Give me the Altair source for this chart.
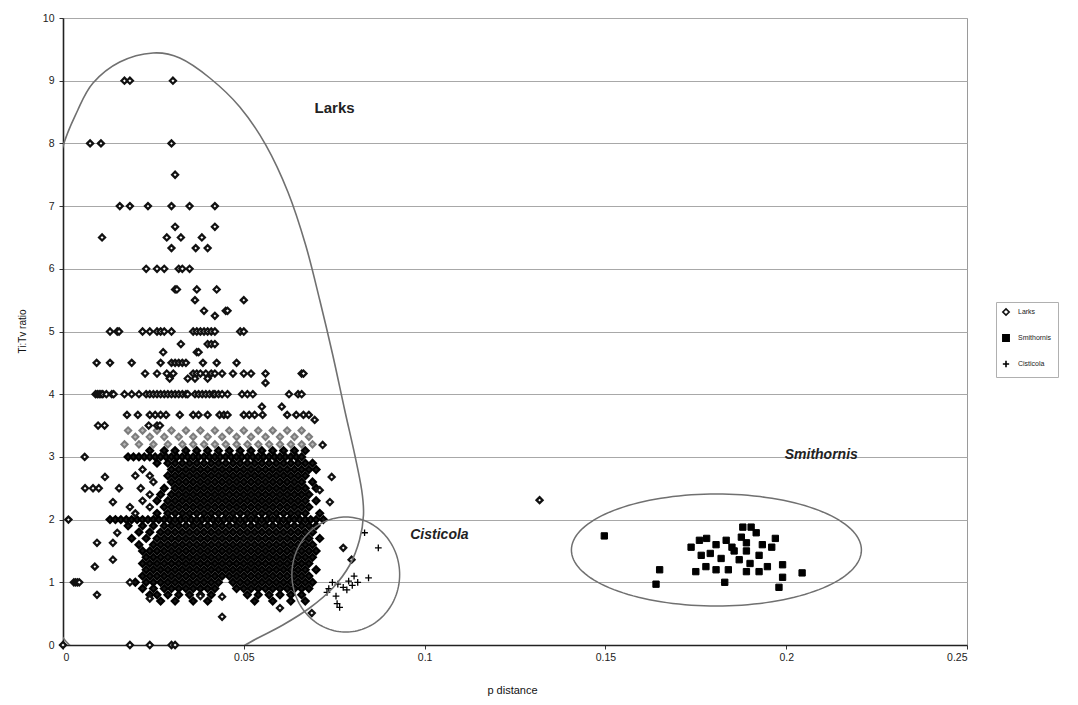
import altair as alt
import pandas as pd
import numpy as np

FONT = "Liberation Sans"
series_names = ["Larks", "Smithornis", "Cisticola"]

# ---------- Larks: isolated points, rows of (Ti:Tv, [p distance x1000]) ----------
larks_upper_rows = [
    (9, [17, 18.5, 30.4]),
    (8, [7.5, 10.5, 30]),
    (7.5, [31]),
    (7, [15.7, 18.5, 23.5, 30, 35, 42]),
    (6.67, [31, 42]),
    (6.5, [10.8, 28.7, 32.6, 38.4]),
    (6.33, [30, 36.7, 40]),
    (6, [23, 26, 28, 32, 33, 35]),
    (5.67, [31, 31.5, 37, 42.5]),
    (5.5, [36.5, 50]),
    (5.33, [39, 45, 45.5]),
    (5.25, [42]),
    (5, [13, 15, 15.5, 22, 24, 26, 27, 28, 30, 36, 37, 38, 39, 40, 41, 42, 49, 50]),
    (4.8, [32.6, 40, 41, 42]),
    (4.67, [27.7, 37, 37.5]),
    (4.5, [9.3, 13, 19, 27, 30, 31, 32, 33, 34, 38.7, 42.5, 48]),
    (4.33, [22.7, 26, 28.7, 30.5, 36, 37, 38, 39.5, 41, 42, 44, 47, 50, 52, 56, 66, 66.5]),
    (4.25, [29.5, 34.5, 36.5, 40]),
    (4.18, [56]),
    (4, [9, 9.5, 10, 10.5, 11, 12, 13.5, 14, 17, 19, 21, 23, 24, 25, 26, 27, 28, 29, 30,
         31, 32, 33, 34, 34.5, 36.5, 37.5, 38.5, 39.5, 40.5, 41.5, 42, 43, 44, 45.5,
         49.5, 51, 52.5, 62.5, 65, 66]),
    (3.8, [55, 60.5]),
    (3.67, [17.7, 20.7, 24, 25.5, 27, 28.5, 32.3, 36, 37.5, 40, 43.3, 44.5, 45.5, 50,
            51.5, 53, 55.2, 62, 64.5, 66.5, 68]),
    (3.59, [69.6]),
    (3.5, [9.7, 11.5, 23.7, 26, 26.8]),
]

larks_lower_rows = [
    (3.19, [71.8]),
    (3, [6]),
    (2.8, [22]),
    (2.7, [20, 24]),
    (2.68, [11.6, 74.3]),
    (2.6, [25]),
    (2.5, [6.1, 8.3, 9.9, 15.5, 21.5]),
    (2.47, [71]),
    (2.4, [24]),
    (2.31, [131.8]),
    (2.3, [22]),
    (2.28, [13.8, 73.8]),
    (2.2, [18.5, 24]),
    (2.1, [20]),
    (2, [1.5]),
    (1.79, [15]),
    (1.63, [9.4, 13.8]),
    (1.55, [77.5]),
    (1.36, [13.8, 79.8]),
    (1.25, [8.8]),
    (1, [3, 3.5, 4, 4.5, 18.5]),
    (0.8, [9.4]),
    (0.78, [38]),
    (0.77, [44]),
    (0.74, [24]),
    (0.59, [60]),
    (0.51, [68.8]),
    (0.45, [44]),
    (0, [0, 18.5, 24, 30, 31]),
]

# lighter band on top of the dense core
larks_band_rows = [
    (3.42, [18, 22, 26, 30, 34, 38, 42, 46, 50, 54, 58, 62, 66]),
    (3.32, [20, 24, 28, 32, 36, 40, 44, 48, 52, 56, 60, 64, 68]),
    (3.2, [17, 21, 25, 29, 33, 36, 39, 42, 45, 48, 51, 54, 57, 60, 63, 66, 69]),
]

# dense core (overlapping markers)
larks_core_rows = [
    (3.1, [24, 28, 31, 34, 37, 40, 43, 46, 49, 52, 55, 58, 61, 64, 67]),
    (3.0, [18, 19.5, 21, 22.5, 24, 25.5, 27, 28.5, 30, 31.5, 33, 34.5, 36, 37.5, 39, 40.5,
           42, 43.5, 45, 46.5, 48, 49.5, 51, 52.5, 54, 55.5, 57, 58.5, 60, 61.5, 63, 64.5, 66]),
    (2.9, [26, 29, 31, 33, 35, 37, 39, 41, 43, 45, 47, 49, 51, 53, 55, 57, 59, 61, 63, 65, 67, 69]),
    (2.8, [30, 32, 34, 36, 38, 40, 42, 44, 46, 48, 50, 52, 54, 56, 58, 60, 62, 64, 66, 68, 70]),
    (2.7, [29, 31, 33, 35, 37, 39, 41, 43, 45, 47, 49, 51, 53, 55, 57, 59, 61, 63, 65, 67]),
    (2.6, [30, 32, 34, 36, 38, 40, 42, 44, 46, 48, 50, 52, 54, 56, 58, 60, 62, 64, 66, 69]),
    (2.5, [28, 31, 33, 35, 37, 39, 41, 43, 45, 47, 49, 51, 53, 55, 57, 59, 61, 63, 65, 67, 70]),
    (2.4, [27, 30, 32, 34, 36, 38, 40, 42, 44, 46, 48, 50, 52, 54, 56, 58, 60, 62, 64, 66, 68]),
    (2.3, [26, 29, 31, 33, 35, 37, 39, 41, 43, 45, 47, 49, 51, 53, 55, 57, 59, 61, 63, 65, 67, 70]),
    (2.2, [28, 30, 32, 34, 36, 38, 40, 42, 44, 46, 48, 50, 52, 54, 56, 58, 60, 62, 64, 66, 68]),
    (2.1, [26, 29, 31, 33, 35, 37, 39, 41, 43, 45, 47, 49, 51, 53, 55, 57, 59, 61, 63, 65, 67, 71]),
    (2.0, [13, 14.5, 16, 17.5, 19, 20.5, 22, 23.5, 25, 26.5, 28, 29.5, 31, 32.5, 34, 35.5, 37,
           38.5, 40, 41.5, 43, 44.5, 46, 47.5, 49, 50.5, 52, 53.5, 55, 56.5, 58, 59.5, 61,
           62.5, 64, 65.5, 67, 68.5, 70, 72]),
    (1.9, [18, 22, 25, 28, 30, 32, 34, 36, 38, 40, 42, 44, 46, 48, 50, 52, 54, 56, 58, 60, 62, 64, 66, 68, 70]),
    (1.8, [21, 24, 27, 29, 31, 33, 35, 37, 39, 41, 43, 45, 47, 49, 51, 53, 55, 57, 59, 61, 63, 65, 67, 69]),
    (1.7, [19, 23, 26, 28, 30, 32, 34, 36, 38, 40, 42, 44, 46, 48, 50, 52, 54, 56, 58, 60, 62, 64, 66, 68, 71]),
    (1.6, [21, 25, 27, 29, 31, 33, 35, 37, 39, 41, 43, 45, 47, 49, 51, 53, 55, 57, 59, 61, 63, 65, 67, 69]),
    (1.5, [22, 24, 26, 28, 30, 32, 34, 36, 38, 40, 42, 44, 46, 48, 50, 52, 54, 56, 58, 60, 62, 64, 66, 68, 70]),
    (1.4, [23, 25, 27, 29, 31, 33, 35, 37, 39, 41, 43, 45, 47, 49, 51, 53, 55, 57, 59, 61, 63, 65, 67, 69]),
    (1.3, [22, 24, 26, 28, 30, 32, 34, 36, 38, 40, 42, 44, 46, 48, 50, 52, 54, 56, 58, 60, 62, 64, 66, 68]),
    (1.2, [23, 25, 27, 29, 31, 33, 35, 37, 39, 41, 43, 45, 47, 49, 51, 53, 55, 57, 59, 61, 63, 65, 67, 70]),
    (1.1, [22, 24, 26, 28, 30, 32, 34, 36, 38, 40, 42, 44, 46, 48, 50, 52, 54, 56, 58, 60, 62, 64, 66, 68]),
    (1.0, [20, 23, 25, 27, 29, 31, 33, 35, 37, 39, 41, 43, 47, 49, 51, 53, 55, 57, 59, 61, 63, 65, 67, 69]),
    (0.9, [22, 25, 28, 30, 32, 34, 36, 38, 40, 42, 48, 50, 52, 54, 56, 58, 60, 62, 64, 66, 68]),
    (0.8, [24, 26, 29, 32, 35, 38, 41, 51, 54, 57, 60, 63, 66]),
    (0.7, [27, 31, 36, 40, 53, 58, 63, 67]),
]

# ---------- Smithornis ----------
smith_x = [149.7, 165, 164, 204.4, 183, 198, 199, 199, 188, 190.3, 191.7, 187.6, 197, 196,
           193.4, 173.7, 176, 178, 180.6, 183.4, 185, 189, 192.5, 176.5, 179, 182, 187, 190,
           194.8, 175, 177.8, 180.6, 184, 189, 192.5, 185.6, 189]
smith_y = [1.74, 1.2, 0.97, 1.15, 1.0, 0.92, 1.08, 1.28, 1.88, 1.88, 1.79, 1.72, 1.7, 1.56,
           1.6, 1.56, 1.67, 1.7, 1.6, 1.67, 1.56, 1.5, 1.43, 1.43, 1.46, 1.38, 1.36, 1.3,
           1.25, 1.17, 1.25, 1.2, 1.2, 1.17, 1.17, 1.5, 1.63]

# ---------- Cisticola ----------
cist_x = [83.4, 87.2, 84.5, 81.5, 80, 79, 77.5, 76, 78.5, 75.5, 75.8, 76.5, 73.5, 74.5, 80.5, 73]
cist_y = [1.79, 1.55, 1.07, 1.0, 0.95, 1.02, 0.92, 0.97, 0.88, 0.78, 0.66, 0.6, 0.9, 1.0, 1.1, 0.84]

# ---------- annotations ----------
label_text = ["Larks", "Smithornis", "Cisticola"]
label_x = [0.0751, 0.2097, 0.1041]
label_y = [8.56, 3.03, 1.75]

# outline around Larks (data units; parts beyond the axes are clipped)
larks_outline_x = [0.0249, 0.0323, 0.0406, 0.0489, 0.0561, 0.0622, 0.0671, 0.0710, 0.0746,
                   0.0779, 0.0807, 0.0826, 0.0831, 0.0820, 0.0793, 0.0746, 0.0682, 0.0608,
                   0.0539, 0.0448, 0.0296, 0.0130, -0.0014, -0.0064, -0.0077, -0.0064,
                   -0.0036, -0.0003, 0.0041, 0.0083, 0.0157]
larks_outline_y = [9.442, 9.362, 9.043, 8.581, 7.974, 7.225, 6.380, 5.502, 4.625, 3.748,
                   3.030, 2.472, 2.073, 1.675, 1.276, 0.909, 0.590, 0.319, 0.112, -0.159,
                   -0.431, -0.367, 0.239, 1.675, 3.589, 5.502, 6.858, 7.895, 8.533, 8.963,
                   9.298]

# ellipses around Cisticola and Smithornis: centre and radii in data units
ell_cx = [0.0782, 0.1807]
ell_cy = [1.124, 1.515]
ell_rx = [0.0149, 0.0401]
ell_ry = [0.917, 0.893]


def rows_to_frame(rows, series):
    xs, ys = [], []
    for y, xl in rows:
        for v in xl:
            xs.append(v / 1000.0)
            ys.append(y)
    return pd.DataFrame({"p": xs, "r": ys, "series": series})


larks_df = pd.concat([rows_to_frame(larks_upper_rows, "Larks"),
                      rows_to_frame(larks_lower_rows, "Larks")], ignore_index=True)
band_df = rows_to_frame(larks_band_rows, "Larks")
core_df = rows_to_frame(larks_core_rows, "Larks")
smith_df = pd.DataFrame({"p": [v / 1000 for v in smith_x], "r": smith_y, "series": "Smithornis"})
cist_df = pd.DataFrame({"p": [v / 1000 for v in cist_x], "r": cist_y, "series": "Cisticola"})

outline = pd.DataFrame({"p": larks_outline_x, "r": larks_outline_y,
                        "i": list(range(len(larks_outline_x)))})

t = np.linspace(0, 2 * np.pi, 145)
ell_frames = []
for k in range(len(ell_cx)):
    ell_frames.append(pd.DataFrame({
        "p": ell_cx[k] + ell_rx[k] * np.cos(t),
        "r": ell_cy[k] + ell_ry[k] * np.sin(t),
        "i": np.arange(len(t)),
        "e": k,
    }))
ells = pd.concat(ell_frames, ignore_index=True)

labels = pd.DataFrame({"p": label_x, "r": label_y, "t": label_text})

xscale = alt.Scale(domain=[0, 0.25], nice=False, zero=False)
yscale = alt.Scale(domain=[0, 10], nice=False, zero=False)

xaxis = alt.Axis(values=[0, 0.05, 0.1, 0.15, 0.2, 0.25], format=".2~f", grid=False,
                 tickSize=4, tickColor="#333", domainColor="#222", domainWidth=1.6,
                 labelFont=FONT, labelFontSize=10.5, labelColor="#222", labelPadding=3,
                 title="p distance", titleFont=FONT, titleFontSize=11, titleFontWeight="normal",
                 titleColor="#111", titleX=449, titleY=45, titleBaseline="middle")
yaxis = alt.Axis(values=list(range(0, 11)), format="d", grid=True, gridColor="#a8a8a8",
                 gridWidth=1, tickSize=4, tickColor="#333", domainColor="#222", domainWidth=1.6,
                 labelFont=FONT, labelFontSize=10.5, labelColor="#222", labelPadding=5,
                 title="Ti:Tv ratio", titleFont=FONT, titleFontSize=10, titleFontWeight="normal",
                 titleColor="#111", titleX=-41, titleY=313, titleBaseline="middle", titleAngle=-90)

leg = alt.Legend(title=None, orient="none", legendX=933, legendY=284,
                 labelFont=FONT, labelFontSize=7, labelColor="#222", labelOffset=8,
                 symbolSize=40, symbolStrokeWidth=1.6, rowPadding=12, padding=6,
                 strokeColor="#b0b0b0", fillColor="white")

plus_path = "M-1,0L1,0M0,-1L0,1"

X = alt.X("p:Q", scale=xscale, axis=xaxis)
Y = alt.Y("r:Q", scale=yscale, axis=yaxis)
series_enc = dict(
    shape=alt.Shape("series:N", scale=alt.Scale(domain=series_names,
                    range=["diamond", "square", plus_path]), legend=leg),
    fill=alt.Fill("series:N", scale=alt.Scale(domain=series_names,
                  range=["white", "black", "transparent"]), legend=leg),
    stroke=alt.Stroke("series:N", scale=alt.Scale(domain=series_names,
                      range=["#111111", "black", "black"]), legend=leg),
)

band_layer = alt.Chart(band_df).mark_point(
    shape="diamond", filled=True, fill="#b4b4b4", stroke="#7c7c7c", strokeWidth=2, size=40, opacity=1
).encode(x=X, y=Y)

core_layer = alt.Chart(core_df).mark_point(
    shape="diamond", filled=True, fill="#161616", stroke="black", strokeWidth=2.2, size=46, opacity=1
).encode(x=X, y=Y)

larks_layer = alt.Chart(larks_df).mark_point(
    filled=True, size=36, strokeWidth=2.3, opacity=1
).encode(x=X, y=Y, **series_enc)

smith_layer = alt.Chart(smith_df).mark_point(
    filled=True, size=40, strokeWidth=1.0, opacity=1
).encode(x=X, y=Y, **series_enc)

cist_layer = alt.Chart(cist_df).mark_point(
    filled=True, size=45, strokeWidth=1.3, opacity=1
).encode(x=X, y=Y, **series_enc)

outline_line = alt.Chart(outline).mark_line(
    interpolate="cardinal-closed", clip=True, color="#707070", strokeWidth=1.6
).encode(x=alt.X("p:Q", scale=xscale), y=alt.Y("r:Q", scale=yscale), order="i:Q")

ell_lines = alt.Chart(ells).mark_line(clip=True, color="#707070", strokeWidth=1.5).encode(
    x=alt.X("p:Q", scale=xscale), y=alt.Y("r:Q", scale=yscale),
    detail="e:N", order="i:Q"
)

larks_label = alt.Chart(labels.iloc[[0]]).mark_text(
    font=FONT, fontSize=15, fontWeight="bold", color="#222", align="center", baseline="middle"
).encode(x=alt.X("p:Q", scale=xscale), y=alt.Y("r:Q", scale=yscale), text="t:N")

other_labels = alt.Chart(labels.iloc[[1, 2]]).mark_text(
    font=FONT, fontSize=14, fontWeight="bold", fontStyle="italic", color="#222",
    align="center", baseline="middle"
).encode(x=alt.X("p:Q", scale=xscale), y=alt.Y("r:Q", scale=yscale), text="t:N")

chart = alt.layer(
    band_layer, core_layer, larks_layer, smith_layer, cist_layer,
    outline_line, ell_lines, larks_label, other_labels
).properties(
    width=904, height=627,
    autosize=alt.AutoSizeParams(type="none"),
    padding={"left": 63, "top": 18, "right": 111, "bottom": 60},
    background="white",
).configure_view(stroke="#9a9a9a", strokeWidth=1)

chart.save("out.html", embed_options={"renderer": "svg", "actions": False})
